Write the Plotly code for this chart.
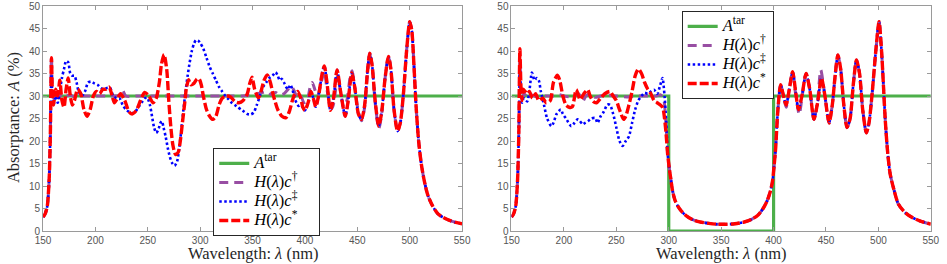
import plotly.graph_objects as go

# ---------------- data ----------------
# common steep rise at the short-wavelength edge
rise_wl = [150, 152, 154, 155, 156, 157]
rise_A = [3.1, 3.8, 5.5, 8, 12.5, 22]

# ----- left panel -----
L_red_mid_wl = [158, 159, 160, 162, 164, 166, 168, 170, 172, 174, 176, 178, 180, 183, 186, 189, 192, 195,
                198, 201, 204, 207, 210, 213, 216, 218, 221, 224, 228, 232, 235, 239, 243, 247, 251, 255,
                258, 261, 263, 265.5, 268, 270, 272, 274, 276.5, 279, 281, 283, 285, 287, 289, 291, 294,
                297, 299, 301, 303, 306, 309, 312, 315, 318, 321, 325, 329, 333, 337, 341, 345, 347, 349.4,
                352, 355.6, 358, 361, 364, 367, 370, 374, 378, 382, 385, 388, 390, 393, 396, 398]
L_red_mid_A = [38.5, 30, 28, 31.5, 30, 33.5, 29, 27.5, 31.5, 34, 30, 28, 29, 31.5, 30.5, 27, 25.5, 27,
               30, 31, 30.5, 31.5, 31.5, 32, 30, 28.5, 29.5, 30.5, 29, 26.5, 26, 26.8, 29, 30.8, 30, 28.5,
               29.5, 33, 37, 39.2, 36, 29, 23, 19, 17, 17.5, 20, 24, 28, 32, 33.6, 32.5, 32.8,
               33.8, 33.8, 32.5, 30, 27, 25.5, 24.8, 25.5, 28, 29.5, 30, 29.8, 28.8, 28.5, 29, 30.5, 32.5, 34.2,
               31.5, 29.6, 31, 33.5, 34.7, 33, 30, 27, 25.5, 25.2, 26.5, 29, 30.3, 31, 29.5, 27.5]

L_blue_mid_wl = [158, 159, 160, 162, 164, 166, 168, 170, 172, 174, 176, 178, 180, 182, 184, 187, 190, 193,
                 196, 199, 202, 205, 208, 211, 214, 217, 220, 223, 226, 229, 232, 235, 238, 241, 244, 247,
                 249.5, 252, 254, 256, 258, 260, 262, 263.5, 265, 267, 269, 271, 273, 275.5, 278, 280, 282,
                 284, 286, 288, 290, 292, 294, 296, 298, 300, 303, 306, 309, 312, 315, 318, 321, 324, 327,
                 330, 333, 336, 339, 342, 345, 348, 351, 354, 357, 360, 363, 366, 369, 372, 374, 376, 378,
                 380, 382, 384, 386, 388, 390, 392, 394, 396, 398]
L_blue_mid_A = [36.5, 29, 28, 30, 28.5, 31, 34, 36, 37.8, 37.5, 35, 34.5, 34.5, 33, 31, 30, 31, 33,
                33.2, 32.8, 32.5, 31.8, 31.5, 31.8, 31.8, 30, 29.5, 29.5, 28, 27, 26.5, 26.2, 26.5, 27.5, 28.5, 29.5,
                29.6, 28, 25.5, 23, 21.8, 22.5, 24, 24.4, 23, 21, 18.5, 16.5, 15.2, 14.5, 15.5, 18.5, 22.5,
                27, 31, 34.5, 37.5, 40, 41.6, 42.4, 42.3, 41.8, 40.5, 38.5, 36.5, 35, 33.5, 32, 31, 30, 29.3,
                28.5, 28, 27.5, 27, 26.5, 26, 25.9, 26.3, 28, 30, 32, 33, 34, 34.5, 35.3, 34.5, 33.5, 33.8,
                33, 32, 31.5, 32.5, 31.5, 29.5, 28.5, 27.8, 28, 27.5]

L_tail_wl = [400, 403, 405.6, 408, 410.3, 413, 416, 418.5, 421, 424.3, 427, 430.6, 434, 438.4, 441, 444.7,
             447.5, 451, 454, 457, 459.5, 461.8, 464, 467, 470.3, 473, 476.5, 479.7, 482, 485, 488.4, 491,
             494, 497, 500, 502, 504, 506, 508.5, 511, 513.5, 516, 518, 522, 527, 532, 538, 544, 550]
L_tail_A = [26.8, 28.5, 31, 29.5, 27.6, 30, 34.5, 36.7, 33, 26.8, 29, 35.8, 31, 25.5, 28.5, 35.1,
            32, 26, 24.8, 28, 35, 39.5, 37, 29, 23.3, 26, 34, 38.8, 36, 27, 22.2, 24,
            30.5, 40, 46.5, 44.5, 37, 28, 20, 15, 11.6, 9, 7.5, 5.5, 3.8, 3, 2.35, 1.9, 1.6]

L_purple_wl = [158, 159, 160, 162, 165, 168, 172, 176, 180, 185, 190, 200, 210, 220, 223, 226, 229, 240,
               260, 280, 300, 320, 340, 350, 355, 360, 364, 368, 372, 376, 380, 384, 387, 390, 393, 396,
               399, 402, 405, 407, 410, 412, 415, 418.5, 421, 424, 426, 428, 431, 434, 437, 440, 443, 445,
               447.5, 451, 454, 457, 459.5, 461.8, 464, 467, 470.5, 473]
L_purple_A = [38.8, 31, 29.5, 30.5, 29.5, 30.5, 30, 30.2, 29.8, 30, 30, 30, 30, 30, 30.2, 31.2, 30, 30,
              30, 30, 30, 30, 30, 30.2, 30.5, 30.8, 31, 30.3, 30.8, 30.2, 30.5, 31.5, 32.2, 31, 29.5, 30,
              28.5, 29, 32, 33, 31, 30, 32.5, 35.5, 31.5, 28, 27.3, 29, 34.5, 31, 27.5, 29, 34, 35.6,
              32, 26.5, 24.5, 27.5, 34.5, 39.2, 37, 28.5, 22.8, 25.5]

# ----- right panel -----
R_red_mid_wl = [158, 159, 160, 161, 163, 165, 167, 170, 173, 176, 180, 183, 187, 190, 193.8, 196, 199, 202,
                205, 208, 211.7, 215.5, 219, 222.7, 225, 228, 231, 235, 239, 244, 247, 250, 253, 257, 259,
                262, 265, 268, 271, 274, 277, 280, 283, 286, 289, 292, 294.3]
R_red_mid_A = [40.5, 32, 29, 31.5, 31, 30.5, 31, 29.5, 30.5, 29, 29.5, 28.5, 29, 33, 34.6, 33.5, 30, 28,
               27.5, 27.6, 31.4, 29.2, 30.5, 31.4, 30, 28.8, 28.5, 29.5, 30.5, 31, 30, 29, 27, 24.8, 25.5,
               28, 31, 34.5, 36, 35, 33, 31.5, 30.5, 29, 28.5, 28, 27.4]

R_blue_mid_wl = [158, 159, 160, 162, 165, 167, 169.5, 172, 174, 176, 178, 181, 184, 188, 190, 193, 197,
                 199, 202, 207, 210, 213, 215, 218, 220, 223, 226, 230, 232, 235, 238, 241.5, 244, 247, 250,
                 253, 256, 259, 262, 265, 268, 271, 274, 277, 280, 283, 286, 289, 292, 294, 296, 298]
R_blue_mid_A = [37, 30, 28.5, 29.5, 28.8, 31, 35.2, 33.5, 34, 33.5, 31, 28, 25, 23.3, 24, 26, 27,
                26, 25, 23.3, 24, 24.8, 24.5, 23.7, 24, 24.4, 25, 25.1, 24, 25.5, 26.5, 28.1, 28, 26, 23,
                20, 18.9, 20, 21, 24, 27, 29, 30, 30.7, 30.5, 31, 31.4, 30.5, 32.5, 34, 30, 22.5]

R_purple_mid_wl = [158, 159, 160, 162, 165, 168, 172, 176, 180, 185, 190, 195, 200, 205, 210, 214, 218,
                   221, 225, 230, 235, 240, 250, 260, 270, 280, 288, 292, 295, 297]
R_purple_mid_A = [38, 31, 29.5, 30.5, 29.8, 30.3, 30, 29.7, 30, 30, 30, 30.3, 30, 29.8, 30, 30.5, 28.8,
                  30, 30.5, 29.7, 30, 30.2, 30, 29.8, 30, 30, 30, 30.3, 29.5, 25]

R_tail_wl = [299, 300.5, 302, 303.6, 306, 309, 311.4, 315, 319, 324, 330, 338, 346, 355, 363, 372, 379,
             385, 390, 394, 396.5, 398.8, 400.5, 402, 404, 406.7, 409, 412, 415, 418.2, 421, 423.8, 427,
             431, 434.5, 438.5, 442, 445.7, 449, 452.9, 456, 458.5, 461.3, 464, 467, 470, 473, 476, 479.1,
             482, 485, 488.5, 491, 494, 497.5, 500.6, 503, 506.6, 509, 511.2, 515, 519, 525, 531.5, 540,
             548.7, 550]
R_tail_A = [17, 14, 11.5, 9, 6.8, 5.4, 4.6, 3.7, 3, 2.4, 2, 1.7, 1.5, 1.5, 1.6, 2.0, 2.6,
            3.5, 5, 6.8, 8.5, 10.8, 14.5, 18.5, 26.6, 32.5, 30.5, 28, 31.5, 35.4, 31, 27, 30,
            35, 31.5, 24.8, 28.5, 34, 30, 24, 28, 34, 39.1, 36, 28, 23, 25, 32.5, 38,
            35, 27, 21.8, 24, 30.5, 40, 46.5, 40, 24.4, 17, 12.7, 9, 6, 4.2, 3.1, 2.2,
            1.6, 1.55]
R_purple_tail_wl = [299, 300.5, 302, 303.6, 306, 309, 311.4, 315, 319, 324, 330, 338, 346, 355, 363, 372,
                    379, 385, 390, 394, 396.5, 398.8, 400.5, 402, 404, 406.7, 409, 412, 415, 418.2, 421,
                    424.5, 427, 431, 434.5, 438.5, 442, 445, 449, 452.9, 456, 458.5, 461.3]
R_purple_tail_A = [17, 14, 11.5, 9, 6.8, 5.4, 4.6, 3.7, 3, 2.4, 2, 1.7, 1.5, 1.5, 1.6, 2.0,
                   2.6, 3.5, 5, 6.8, 8.5, 10.8, 14.5, 18.5, 26.6, 32.5, 30.5, 27.5, 31.5, 35.4, 30.5,
                   25.9, 29.5, 35, 31.5, 24.8, 29, 35.8, 30, 24, 28, 34, 39.1]

# target absorptance
L_tar_wl = [150, 550]
L_tar_A = [30, 30]
R_tar_wl = [150, 300, 300, 400, 400, 550]
R_tar_A = [30, 30, 0, 0, 30, 30]

x_ticks = [150, 200, 250, 300, 350, 400, 450, 500, 550]
y_ticks = [0, 5, 10, 15, 20, 25, 30, 35, 40, 45, 50]

# ---------------- build series ----------------
L_red_wl = rise_wl + L_red_mid_wl + L_tail_wl
L_red_A = rise_A + L_red_mid_A + L_tail_A
L_blue_wl = rise_wl + L_blue_mid_wl + L_tail_wl
L_blue_A = rise_A + L_blue_mid_A + L_tail_A
L_pur_wl = rise_wl + L_purple_wl + [w for w in L_tail_wl if w > 474]
L_pur_A = rise_A + L_purple_A + [a for w, a in zip(L_tail_wl, L_tail_A) if w > 474]

R_red_wl = rise_wl + R_red_mid_wl + [296, 297.5] + R_tail_wl
R_red_A = rise_A + R_red_mid_A + [25, 21.5] + R_tail_A
R_blue_wl = rise_wl + R_blue_mid_wl + R_tail_wl
R_blue_A = rise_A + R_blue_mid_A + R_tail_A
R_pur_wl = rise_wl + R_purple_mid_wl + R_purple_tail_wl + [w for w in R_tail_wl if w > 462]
R_pur_A = rise_A + R_purple_mid_A + R_purple_tail_A + [a for w, a in zip(R_tail_wl, R_tail_A) if w > 462]

GREEN = "rgb(77,175,74)"
PURPLE = "rgb(152,78,163)"
BLUE = "rgb(0,0,255)"
RED = "rgb(255,0,0)"

SPAN = "<span style='font-size:16.5px'>{}</span>"
base_names = ["<i>A</i><sup>tar</sup>",
              "<i>H</i>(<i>λ</i>)<i>c</i><sup>†</sup>",
              "<i>H</i>(<i>λ</i>)<i>c</i><sup>‡</sup>",
              "<i>H</i>(<i>λ</i>)<i>c</i><sup>*</sup>"]
names_left = [SPAN.format(n) for n in base_names]
names_left[1] = names_left[1] + "&nbsp;&nbsp;&nbsp;&nbsp;&nbsp;"
names_right = [SPAN.format(n) for n in base_names]

fig = go.Figure()


def add_panel(xa, ya, leg, names, tar, pur, blu, red):
    fig.add_trace(go.Scatter(x=tar[0], y=tar[1], mode="lines", name=names[0], legend=leg,
                             line=dict(color=GREEN, width=3.2), xaxis=xa, yaxis=ya))
    fig.add_trace(go.Scatter(x=pur[0], y=pur[1], mode="lines", name=names[1], legend=leg,
                             line=dict(color=PURPLE, width=3, dash="9px,6px", shape="spline", smoothing=0.7),
                             xaxis=xa, yaxis=ya))
    fig.add_trace(go.Scatter(x=blu[0], y=blu[1], mode="lines", name=names[2], legend=leg,
                             line=dict(color=BLUE, width=2.6, dash="2.5px,2.5px", shape="spline", smoothing=0.7),
                             xaxis=xa, yaxis=ya))
    fig.add_trace(go.Scatter(x=red[0], y=red[1], mode="lines", name=names[3], legend=leg,
                             line=dict(color=RED, width=3.4, dash="9px,3px", shape="spline", smoothing=0.7),
                             xaxis=xa, yaxis=ya))


add_panel("x", "y", "legend", names_left, (L_tar_wl, L_tar_A), (L_pur_wl, L_pur_A), (L_blue_wl, L_blue_A),
          (L_red_wl, L_red_A))
add_panel("x2", "y2", "legend2", names_right, (R_tar_wl, R_tar_A), (R_pur_wl, R_pur_A), (R_blue_wl, R_blue_A),
          (R_red_wl, R_red_A))

W, H = 947, 264
T, B = 4, 33.3
PH = H - T - B
axis_common = dict(showgrid=False, zeroline=False, showline=True, linecolor="#9a9a9a", linewidth=1,
                   mirror="ticks", ticks="inside", ticklen=4, tickcolor="#9a9a9a",
                   ticklabeloverflow="allow",
                   tickfont=dict(family="Liberation Sans, Arial", size=10, color="#555555"))
legend_font = dict(family="Liberation Serif, DejaVu Serif", size=12.3, color="black")
fig.update_layout(
    width=W, height=H, margin=dict(l=0, r=0, t=T, b=B),
    paper_bgcolor="white", plot_bgcolor="white",
    xaxis=dict(domain=[35.7 / W, 462.4 / W], range=[150, 550], tickvals=x_ticks, anchor="y", **axis_common),
    yaxis=dict(domain=[0, 1], range=[0, 50], tickvals=y_ticks, anchor="x", **axis_common),
    xaxis2=dict(domain=[512.7 / W, 939.7 / W], range=[150, 550], tickvals=x_ticks, anchor="y2", **axis_common),
    yaxis2=dict(domain=[0, 1], range=[0, 50], tickvals=y_ticks, anchor="x2", **axis_common),
    legend=dict(x=209 / W, y=(230.7 - 147) / PH, xanchor="left", yanchor="top",
                bgcolor="white", bordercolor="#262626", borderwidth=1,
                font=legend_font, tracegroupgap=0, itemwidth=30),
    legend2=dict(x=686 / W, y=(230.7 - 9) / PH, xanchor="left", yanchor="top",
                 bgcolor="white", bordercolor="#262626", borderwidth=1,
                 font=legend_font, tracegroupgap=0, itemwidth=30),
    showlegend=True,
)

title_font = dict(family="Liberation Serif, DejaVu Serif", size=16.5, color="#262626")
fig.add_annotation(text="Wavelength: <i>λ</i> (nm)", xref="paper", yref="paper",
                   x=249 / W, y=(230.7 - 253) / PH, xanchor="center", yanchor="middle",
                   showarrow=False, font=title_font)
fig.add_annotation(text="Wavelength: <i>λ</i> (nm)", xref="paper", yref="paper",
                   x=726 / W, y=(230.7 - 253) / PH, xanchor="center", yanchor="middle",
                   showarrow=False, font=title_font)
fig.add_annotation(text="Absorptance: <i>A</i> (%)", xref="paper", yref="paper",
                   x=5 / W, y=(230.7 - 116) / PH, xanchor="center", yanchor="middle",
                   textangle=-90, showarrow=False, font=title_font)

fig.write_html("out.html", config={"displayModeBar": False},
               post_script="document.body.style.margin='0px';document.body.style.overflow='hidden';")
